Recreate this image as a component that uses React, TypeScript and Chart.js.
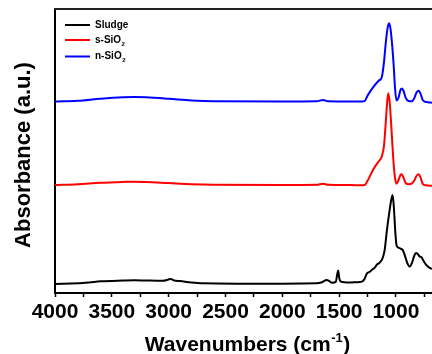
import React, { useEffect, useRef } from "react";
import { Chart, registerables } from "chart.js";

Chart.register(...registerables);

// Wavenumbers (cm^-1) and offset absorbance (a.u.) for each spectrum
const nSiO2Wn = [4000, 3800, 3600, 3400, 3300, 3200, 3000, 2800, 2600, 2000, 1700, 1640, 1600, 1400, 1300, 1275, 1250, 1200, 1150, 1125, 1105, 1090, 1075, 1062, 1050, 1035, 1020, 1008, 996, 980, 960, 948, 935, 915, 890, 862, 840, 820, 800, 785, 765, 740, 720, 683];
const nSiO2Abs = [67.4, 67.7, 68.4, 68.9, 69.0, 68.9, 68.4, 67.8, 67.5, 67.4, 67.5, 68.0, 67.5, 67.4, 67.4, 67.6, 69.5, 72.5, 74.8, 76.0, 81.5, 88.0, 93.0, 95.0, 93.5, 88.0, 80.0, 72.0, 67.8, 68.5, 71.5, 72.0, 71.3, 68.8, 67.6, 67.5, 68.5, 70.5, 71.2, 70.3, 68.0, 67.3, 67.2, 67.0];

const sSiO2Wn = [4000, 3800, 3600, 3400, 3300, 3200, 3000, 2800, 2600, 2000, 1700, 1640, 1600, 1400, 1300, 1275, 1250, 1200, 1150, 1125, 1105, 1090, 1078, 1068, 1055, 1040, 1025, 1010, 996, 980, 962, 950, 938, 915, 890, 862, 840, 820, 800, 785, 765, 740, 683];
const sSiO2Abs = [38.0, 38.3, 38.8, 39.1, 39.2, 39.1, 38.7, 38.3, 38.1, 38.0, 38.1, 38.5, 38.1, 38.0, 37.9, 38.0, 39.5, 43.5, 46.5, 48.0, 52.0, 60.0, 67.0, 70.3, 67.0, 58.0, 48.0, 41.0, 38.5, 39.5, 41.5, 41.8, 41.0, 38.8, 38.3, 38.5, 39.5, 41.2, 41.8, 40.8, 38.5, 37.9, 37.8];

const sludgeWn = [4000, 3800, 3700, 3600, 3400, 3300, 3200, 3050, 2980, 2950, 2900, 2800, 2700, 2400, 2000, 1700, 1650, 1610, 1580, 1560, 1530, 1515, 1508, 1500, 1490, 1470, 1400, 1350, 1300, 1280, 1255, 1230, 1210, 1185, 1170, 1150, 1120, 1100, 1080, 1060, 1045, 1030, 1020, 1005, 995, 980, 960, 940, 920, 900, 880, 860, 840, 825, 810, 790, 775, 760, 740, 720, 700, 683];
const sludgeAbs = [3.2, 3.4, 3.7, 4.1, 4.4, 4.5, 4.4, 4.3, 4.9, 4.4, 4.2, 3.7, 3.4, 3.3, 3.3, 3.4, 3.8, 4.6, 4.0, 3.6, 3.9, 7.0, 7.9, 5.5, 4.2, 3.9, 3.7, 3.8, 4.0, 4.7, 6.9, 7.5, 8.2, 9.0, 9.9, 10.5, 12.0, 15.0, 22.0, 28.0, 32.0, 34.5, 31.0, 21.0, 16.8, 16.0, 15.6, 15.1, 13.0, 10.5, 9.3, 10.5, 13.0, 14.1, 13.8, 12.8, 12.6, 11.5, 10.2, 9.3, 8.8, 8.5];

const seriesNames = ["Sludge", "s-SiO", "n-SiO"];
const seriesSubs = ["", "2", "2"];
const seriesColors = ["#000000", "#ff0000", "#0000ff"];

const xTitleMain = "Wavenumbers (cm";
const xTitleSup = "-1";
const xTitleEnd = ")";
const yTitle = "Absorbance (a.u.)";

const xMin = 683;
const xMax = 4000;
const yMin = 0;
const yMax = 100;

const toPoints = (xs: number[], ys: number[]) => xs.map((x, i) => ({ x, y: ys[i] }));

const FONT = "'Liberation Sans', Arial, sans-serif";

const frameAndLegend = {
  id: "frameAndLegend",
  afterDraw(chart: any) {
    const { ctx, chartArea } = chart;
    ctx.save();
    // top frame line
    ctx.strokeStyle = "#222";
    ctx.lineWidth = 2;
    ctx.beginPath();
    ctx.moveTo(chartArea.left - 1, chartArea.top);
    ctx.lineTo(chartArea.right, chartArea.top);
    ctx.stroke();
    // legend
    const ys = [25, 40, 56.5];
    for (let i = 0; i < seriesNames.length; i++) {
      ctx.strokeStyle = seriesColors[i];
      ctx.lineWidth = 2;
      ctx.beginPath();
      ctx.moveTo(chartArea.left + 10, ys[i]);
      ctx.lineTo(chartArea.left + 35, ys[i]);
      ctx.stroke();
      ctx.fillStyle = "#000";
      ctx.font = `bold 10px ${FONT}`;
      ctx.textBaseline = "middle";
      ctx.textAlign = "left";
      const tx = chartArea.left + 40;
      ctx.fillText(seriesNames[i], tx, ys[i]);
      if (seriesSubs[i]) {
        const w = ctx.measureText(seriesNames[i]).width;
        ctx.font = `bold 6px ${FONT}`;
        ctx.fillText(seriesSubs[i], tx + w + 0.5, ys[i] + 4);
      }
    }
    // x-axis title with superscript
    const xs = chart.scales.x;
    const big = `bold 21px ${FONT}`;
    const small = `bold 13px ${FONT}`;
    ctx.textBaseline = "alphabetic";
    ctx.textAlign = "left";
    ctx.fillStyle = "#000";
    ctx.font = big;
    const w1 = ctx.measureText(xTitleMain).width;
    const w3 = ctx.measureText(xTitleEnd).width;
    ctx.font = small;
    const w2 = ctx.measureText(xTitleSup).width;
    const total = w1 + w2 + w3 + 1;
    const cx = (chartArea.left + chartArea.right) / 2 + 4;
    const baseY = xs.bottom - 3.5;
    let x0 = cx - total / 2;
    ctx.font = big;
    ctx.fillText(xTitleMain, x0, baseY);
    x0 += w1 + 0.5;
    ctx.font = small;
    ctx.fillText(xTitleSup, x0, baseY - 9);
    x0 += w2 + 0.5;
    ctx.font = big;
    ctx.fillText(xTitleEnd, x0, baseY);
    // y-axis title
    ctx.save();
    ctx.translate(29.5, (chartArea.top + chartArea.bottom) / 2 + 4);
    ctx.rotate(-Math.PI / 2);
    ctx.font = `bold 22px ${FONT}`;
    ctx.textAlign = "center";
    ctx.textBaseline = "alphabetic";
    ctx.fillText(yTitle, 0, 0);
    ctx.restore();
    ctx.restore();
  },
};

export default function App() {
  const ref = useRef<HTMLCanvasElement | null>(null);

  useEffect(() => {
    document.body.style.margin = "0";
    const canvas = ref.current;
    if (!canvas) return;
    const datasets = [
      { data: toPoints(sludgeWn, sludgeAbs), color: seriesColors[0], label: "Sludge" },
      { data: toPoints(sSiO2Wn, sSiO2Abs), color: seriesColors[1], label: "s-SiO₂" },
      { data: toPoints(nSiO2Wn, nSiO2Abs), color: seriesColors[2], label: "n-SiO₂" },
    ].map((d) => ({
      label: d.label,
      data: d.data,
      borderColor: d.color,
      backgroundColor: d.color,
      borderWidth: 2,
      pointRadius: 0,
      tension: 0.4,
      cubicInterpolationMode: "monotone" as const,
      fill: false,
    }));

    const chart = new Chart(canvas, {
      type: "line",
      data: { datasets },
      plugins: [frameAndLegend],
      options: {
        animation: false,
        responsive: false,
        devicePixelRatio: 1,
        layout: { padding: { top: 9, right: 0, bottom: 0, left: 0 } },
        plugins: { legend: { display: false }, tooltip: { enabled: false } },
        scales: {
          x: {
            type: "linear",
            reverse: true,
            min: xMin,
            max: xMax,
            afterFit: (s: any) => {
              s.height = 61;
            },
            ticks: {
              stepSize: 250,
              includeBounds: false,
              autoSkip: false,
              maxRotation: 0,
              minRotation: 0,
              padding: 3,
              color: "#000",
              font: { family: FONT, size: 21, weight: "bold" },
              callback: (v: any) => (Number(v) % 500 === 0 ? String(v) : ""),
            },
            grid: {
              display: true,
              drawOnChartArea: false,
              drawTicks: true,
              tickLength: 4,
              tickWidth: 1.5,
              tickColor: "#000",
            },
            border: { display: true, color: "#000", width: 2 },
            title: { display: false },
          },
          y: {
            type: "linear",
            min: yMin,
            max: yMax,
            afterFit: (s: any) => {
              s.width = 55;
            },
            ticks: { display: false },
            grid: { display: false, drawTicks: false },
            border: { display: true, color: "#000", width: 2 },
            title: { display: false },
          },
        },
      },
    } as any);
    return () => chart.destroy();
  }, []);

  return (
    <div style={{ width: 432, height: 354, background: "#fff" }}>
      <canvas ref={ref} width={432} height={354} style={{ width: 432, height: 354, display: "block" }} />
    </div>
  );
}
